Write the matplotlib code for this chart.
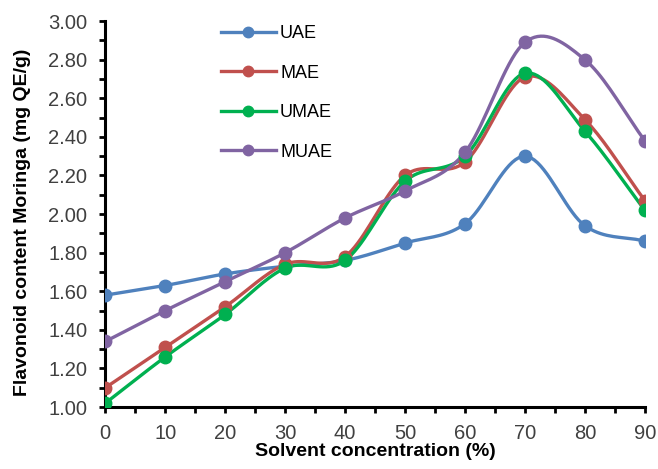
import numpy as np
import matplotlib.pyplot as plt
from matplotlib.ticker import MultipleLocator, FormatStrFormatter

plt.rcParams['font.family'] = ['Liberation Sans', 'DejaVu Sans']

conc = [0, 10, 20, 30, 40, 50, 60, 70, 80, 90]
uae = [1.58, 1.63, 1.69, 1.73, 1.76, 1.85, 1.95, 2.30, 1.94, 1.86]
mae = [1.10, 1.31, 1.52, 1.74, 1.78, 2.20, 2.27, 2.71, 2.49, 2.07]
umae = [1.02, 1.26, 1.48, 1.72, 1.76, 2.17, 2.30, 2.73, 2.43, 2.02]
muae = [1.34, 1.50, 1.65, 1.80, 1.98, 2.12, 2.32, 2.89, 2.80, 2.38]

names = ['UAE', 'MAE', 'UMAE', 'MUAE']
colors = ['#4F81BD', '#C0504D', '#00B050', '#8064A2']


def smooth(x, y, n=20):
    # catmull-rom style curve through the points, like excel's smoothed line
    x = np.asarray(x, float)
    y = np.asarray(y, float)
    px = np.concatenate([[2 * x[0] - x[1]], x, [2 * x[-1] - x[-2]]])
    py = np.concatenate([[2 * y[0] - y[1]], y, [2 * y[-1] - y[-2]]])
    xs, ys = [], []
    t = np.linspace(0, 1, n)
    for i in range(1, len(px) - 2):
        for p, out in ((px, xs), (py, ys)):
            p0, p1, p2, p3 = p[i - 1], p[i], p[i + 1], p[i + 2]
            out.append(0.5 * ((2 * p1) + (-p0 + p2) * t
                              + (2 * p0 - 5 * p1 + 4 * p2 - p3) * t ** 2
                              + (-p0 + 3 * p1 - 3 * p2 + p3) * t ** 3))
    return np.concatenate(xs), np.concatenate(ys)


fig = plt.figure(figsize=(6.58, 4.69), dpi=100)
ax = fig.add_axes([0.16, 0.132, 0.82, 0.823])

for name, vals, c in zip(names, [uae, mae, umae, muae], colors):
    sx, sy = smooth(conc, vals)
    ax.plot(sx, sy, color=c, lw=2.4, zorder=2)
    ax.plot(conc, vals, 'o', color=c, ms=9, zorder=3)
    ax.plot([], [], '-o', color=c, lw=2.4, ms=7.5, label=name)

ax.set_xlim(0, 90)
ax.set_ylim(1.0, 3.0)
ax.xaxis.set_major_locator(MultipleLocator(10))
ax.xaxis.set_minor_locator(MultipleLocator(5))
ax.yaxis.set_major_locator(MultipleLocator(0.2))
ax.yaxis.set_minor_locator(MultipleLocator(0.1))
ax.yaxis.set_major_formatter(FormatStrFormatter('%.2f'))
ax.spines['top'].set_visible(False)
ax.spines['right'].set_visible(False)
for s in ('left', 'bottom'):
    ax.spines[s].set_linewidth(2.2)
    ax.spines[s].set_clip_on(False)
ax.tick_params(which='major', direction='out', length=4, width=2, labelsize=14.5,
               labelcolor='#404040')
ax.tick_params(axis='y', which='major', pad=9)
ax.tick_params(axis='x', which='major', pad=8)
ax.tick_params(which='minor', direction='out', length=4, width=2)

ax.set_xlabel('Solvent concentration (%)', fontsize=14, fontweight='bold', labelpad=0)
ax.set_ylabel('Flavonoid content Moringa (mg QE/g)', fontsize=14, fontweight='bold')
ax.yaxis.set_label_coords(-0.138, 0.48)

ax.legend(loc='upper left', bbox_to_anchor=(0.185, 1.032), frameon=False, fontsize=13,
          labelspacing=1.25, handlelength=3.0, handletextpad=0.25)

fig.savefig('out.png', dpi=100)
